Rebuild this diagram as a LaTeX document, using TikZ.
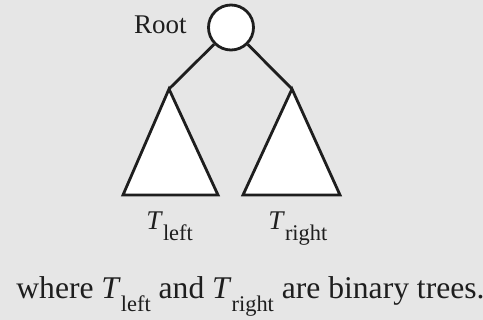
\documentclass[tikz,border=0pt]{standalone}
\usepackage{fontspec}
\setmainfont{Liberation Serif}
\definecolor{paper}{HTML}{E6E6E6}
\definecolor{ink}{HTML}{1E1E1E}
% T with a text subscript: #1 = drop of the subscript, #2 = subscript
\newcommand{\tsub}[2]{\textit{T}\raisebox{-#1}{\fontsize{11.2}{11.2}\selectfont #2}}

\begin{document}
\begin{tikzpicture}[x=0.5pt, y=-0.5pt, line width=1.4pt,
  every node/.style={font=\fontsize{13.5}{16}\selectfont, text=ink, inner sep=0pt},
  subtree/.style={draw=ink, fill=white, line join=miter}]
  % background and frame of the picture
  \fill[paper] (0,0) rectangle (483,320);
  \useasboundingbox (0,0) rectangle (483,320);

  \node[circle, draw=ink, fill=white, minimum size=22.5pt] (root) at (231,27.5) {};
  \node[anchor=base east] (rootlabel) at (188,34) {Root};

  \coordinate (ltop) at (169,89);
  \coordinate (rtop) at (292,89);
  \draw[ink] (root) -- (ltop);
  \draw[ink] (root) -- (rtop);

  \draw[subtree] (ltop) -- (123,195) -- (218,195) -- cycle;
  \draw[subtree] (rtop) -- (243,195) -- (340,195) -- cycle;

  \node[anchor=base west] (tleft) at (145,230) {\tsub{5.5pt}{left}};
  \node[anchor=base west] (tright) at (267,230) {\tsub{5.5pt}{right}};

  \node[anchor=base west, font=\fontsize{15.8}{18}\selectfont] (caption) at (15,299)
    {where \tsub{6.5pt}{left} and \tsub{6.5pt}{right} are binary trees.};
\end{tikzpicture}
\end{document}
